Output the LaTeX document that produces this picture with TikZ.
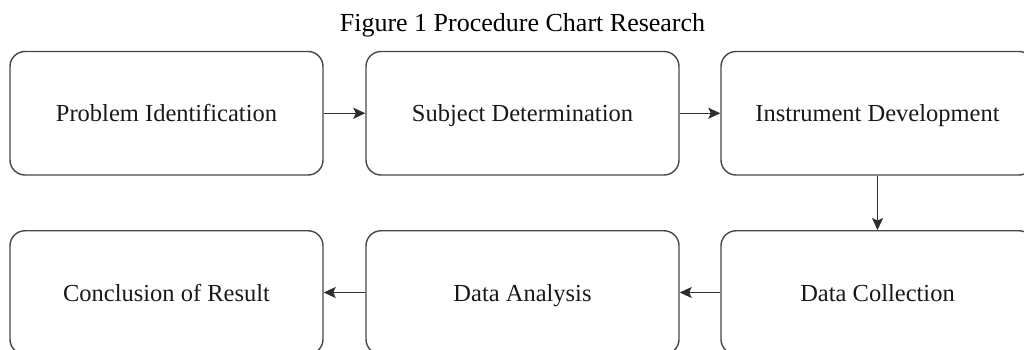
\documentclass[tikz,border=0pt]{standalone}
\usepackage{fontspec}
\setmainfont{Liberation Serif}
\usetikzlibrary{arrows.meta}
\tikzset{
  procbox/.style={draw=black!72, line width=1.4pt, rounded corners=15pt,
    minimum width=313pt, minimum height=123.5pt, inner sep=0pt,
    text height=19pt, text depth=2pt,
    font=\fontsize{24.5}{28}\selectfont, text=black!90},
  flow/.style={draw=black!82, line width=1.4pt,
    -{Stealth[length=12pt, width=11pt, inset=2.5pt]}},
  titletext/.style={font=\fontsize{26}{30}\selectfont, text=black, inner sep=0pt}
}
\begin{document}
\begin{tikzpicture}[x=1pt, y=-1pt]
\useasboundingbox (0,0) rectangle (1024,350);
\clip (0,0) rectangle (1024,350);
\fill[white] (0,0) rectangle (1024,350);
\node[titletext, anchor=base] (title) at (522.5,32) {Figure 1 Procedure Chart Research};
\node[procbox] (p1) at (166.5,113.25) {Problem Identification};
\node[procbox] (p2) at (522.5,113.25) {Subject Determination};
\node[procbox] (p3) at (877.5,113.25) {Instrument Development};
\node[procbox] (p4) at (877.5,292.5) {Data Collection};
\node[procbox] (p5) at (522.5,292.5) {Data Analysis};
\node[procbox] (p6) at (166.5,292.5) {Conclusion of Result};
\draw[flow] (p1) -- (p2);
\draw[flow] (p2) -- (p3);
\draw[flow] (p3) -- (p4);
\draw[flow] (p4) -- (p5);
\draw[flow] (p5) -- (p6);
\end{tikzpicture}
\end{document}
